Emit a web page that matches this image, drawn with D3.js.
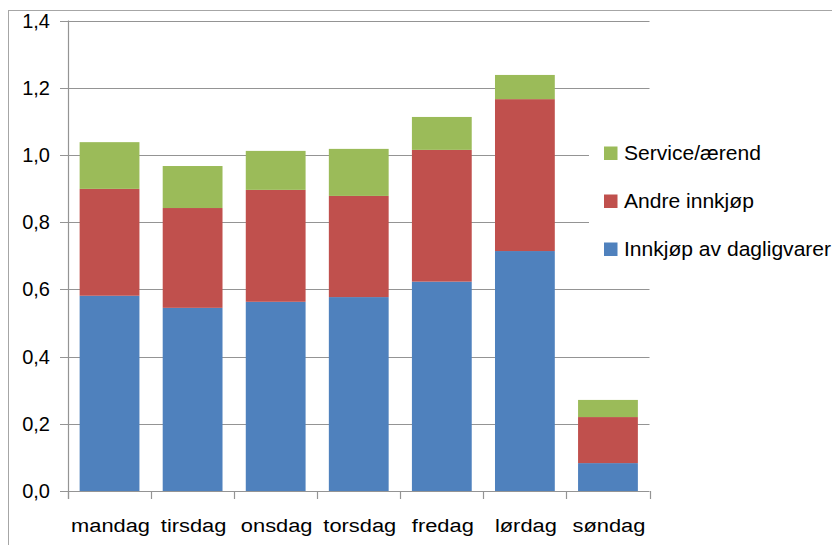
<!DOCTYPE html>
<html>
<head>
<meta charset="utf-8">
<script src="https://cdn.jsdelivr.net/npm/d3@7"></script>
<style>
  html, body { margin: 0; padding: 0; background: #fff; }
  svg { display: block; font-family: "Liberation Sans", Arial, sans-serif; }
</style>
</head>
<body>
<svg id="chart" width="832" height="545"></svg>
<script>
// Days of the week
const days = ["mandag", "tirsdag", "onsdag", "torsdag", "fredag", "lørdag", "søndag"];
// Trips per person per day, by purpose
const dagligvarer = [0.581, 0.545, 0.563, 0.577, 0.623, 0.714, 0.083];
const andreInnkjop = [0.318, 0.297, 0.333, 0.301, 0.392, 0.452, 0.137];
const serviceAerend = [0.139, 0.125, 0.116, 0.140, 0.098, 0.072, 0.051];
// Series names, bottom to top
const seriesNames = ["Innkjøp av dagligvarer", "Andre innkjøp", "Service/ærend"];
const seriesColors = ["#4F81BD", "#C0504D", "#9BBB59"];
const yTicks = [0, 0.2, 0.4, 0.6, 0.8, 1.0, 1.2, 1.4];

const svg = d3.select("#chart");

const x = d3.scaleBand().domain(days).range([68, 649.5])
  .paddingInner(0.28).paddingOuter(0.14);
const y = d3.scaleLinear().domain([0, 1.4]).range([491, 20.5]);

const rows = days.map((d, i) => ({
  day: d,
  [seriesNames[0]]: dagligvarer[i],
  [seriesNames[1]]: andreInnkjop[i],
  [seriesNames[2]]: serviceAerend[i]
}));
const stacked = d3.stack().keys(seriesNames)(rows);
const fmt = v => d3.format(".1f")(v).replace(".", ",");

// outer frame
svg.append("rect")
  .attr("x", 8.5).attr("y", 10.5).attr("width", 840).attr("height", 560)
  .attr("fill", "none").attr("stroke", "#a6a6a6").attr("stroke-width", 1);

// horizontal gridlines
svg.append("g").selectAll("line").data(yTicks).join("line")
  .attr("x1", 60).attr("x2", 649.5)
  .attr("y1", d => Math.round(y(d)) + 0.5).attr("y2", d => Math.round(y(d)) + 0.5)
  .attr("stroke", "#949494").attr("stroke-width", 1.2);

// stacked bars
svg.append("g").selectAll("g").data(stacked).join("g")
  .attr("fill", (s, i) => seriesColors[i])
  .selectAll("rect").data(s => s).join("rect")
  .attr("x", d => x(d.data.day))
  .attr("width", x.bandwidth())
  .attr("y", d => y(d[1]))
  .attr("height", d => y(d[0]) - y(d[1]));

// y axis line
svg.append("line")
  .attr("x1", 68.5).attr("x2", 68.5).attr("y1", y(1.4)).attr("y2", 499)
  .attr("stroke", "#949494").attr("stroke-width", 1.2);

// x axis category-boundary ticks
const bounds = days.map(d => x(d) - x.step() * x.paddingInner() / 2);
bounds[0] = 68;
bounds.push(649.5);
svg.append("g").selectAll("line").data(bounds).join("line")
  .attr("x1", d => Math.round(d) + 0.5).attr("x2", d => Math.round(d) + 0.5)
  .attr("y1", 491).attr("y2", 499)
  .attr("stroke", "#949494").attr("stroke-width", 1.2);

// y tick labels
svg.append("g").selectAll("text").data(yTicks).join("text")
  .attr("x", 50).attr("y", d => y(d) + 7)
  .attr("text-anchor", "end").attr("font-size", 20).attr("fill", "#000")
  .text(fmt);

// x category labels (slightly widened lettering)
svg.append("g").selectAll("text").data(days).join("text")
  .attr("transform", d => `translate(${x(d) + x.bandwidth() / 2 + 1}, 532) scale(1.15, 1)`)
  .attr("text-anchor", "middle").attr("font-size", 19).attr("fill", "#000")
  .text(d => d);

// legend (top entry is the top series)
const legend = svg.append("g");
legend.append("rect")
  .attr("x", 589).attr("y", 110).attr("width", 243).attr("height", 160)
  .attr("fill", "#fff");
const legendItems = seriesNames.map((n, i) => ({ name: n, color: seriesColors[i] })).reverse();
const li = legend.selectAll("g.item").data(legendItems).join("g")
  .attr("class", "item")
  .attr("transform", (d, i) => `translate(604, ${153 + i * 48})`);
li.append("rect").attr("x", 0).attr("y", -6.5).attr("width", 13.5).attr("height", 13.5)
  .attr("fill", d => d.color);
li.append("text")
  .attr("transform", "translate(20, 6.5) scale(1.08, 1)")
  .attr("font-size", 19.5).attr("fill", "#000").text(d => d.name);
</script>
</body>
</html>
